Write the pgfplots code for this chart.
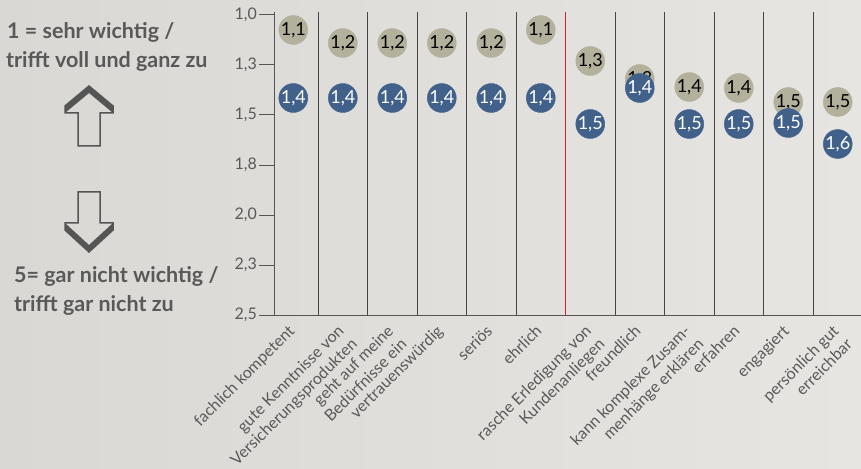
\documentclass[border=0pt]{standalone}
\usepackage{fontspec}
\setmainfont{Lato}
\usepackage{pgfplots}
\pgfplotsset{compat=1.18}
\usepackage{pgfplotstable}

\definecolor{bgL}{HTML}{D9D8D5}
\definecolor{bgR}{HTML}{E6E5E2}
\definecolor{gold}{HTML}{B3B19B}
\definecolor{blu}{HTML}{41618A}
\definecolor{txt}{HTML}{595959}
\definecolor{sep}{HTML}{454545}
\definecolor{redl}{HTML}{D0222A}
\definecolor{arr}{HTML}{555555}

\pgfplotstableread{
x gold glab blue blab
0 1.075 1,1 1.415 1,4
1 1.14 1,2 1.415 1,4
2 1.14 1,2 1.415 1,4
3 1.14 1,2 1.415 1,4
4 1.14 1,2 1.415 1,4
5 1.075 1,1 1.415 1,4
6 1.23 1,3 1.545 1,5
7 1.32 1,3 1.365 1,4
8 1.36 1,4 1.545 1,5
9 1.365 1,4 1.545 1,5
10 1.435 1,5 1.54 1,5
11 1.435 1,5 1.645 1,6
}\data

\begin{document}
\begin{tikzpicture}
\path[use as bounding box] (0,0) rectangle (861pt,468pt);
\clip (0,0) rectangle (861pt,468pt);
\shade[left color=bgL, right color=bgR] (0,0) rectangle (861pt,468pt);

% left explanatory text
\node[anchor=base west, inner sep=0pt, text=txt, font=\fontsize{21.5}{25}\selectfont\bfseries] at (7pt,429pt) {1 = sehr wichtig /};
\node[anchor=base west, inner sep=0pt, text=txt, font=\fontsize{21.5}{25}\selectfont\bfseries] at (6pt,400pt) {trifft voll und ganz zu};
\node[anchor=base west, inner sep=0pt, text=txt, font=\fontsize{21.5}{25}\selectfont\bfseries] at (14pt,185pt) {5= gar nicht wichtig /};
\node[anchor=base west, inner sep=0pt, text=txt, font=\fontsize{21.5}{25}\selectfont\bfseries] at (14pt,156pt) {trifft gar nicht zu};

% up arrow
\fill[arr] (65pt,355pt) -- (89pt,375pt) -- (113pt,355pt) -- (113pt,362pt) -- (89pt,382pt) -- (65pt,362pt) -- cycle;
\draw[arr, line width=1.5pt, line join=miter] (78pt,322pt) -- (100pt,322pt) -- (100pt,355pt) -- (113pt,355pt) -- (113pt,362pt) -- (89pt,382pt) -- (65pt,362pt) -- (65pt,355pt) -- (78pt,355pt) -- cycle;
% down arrow
\fill[arr] (65pt,245pt) -- (89pt,223pt) -- (113pt,245pt) -- (113pt,238pt) -- (89pt,216pt) -- (65pt,238pt) -- cycle;
\draw[arr, line width=1.5pt, line join=miter] (78pt,276pt) -- (100pt,276pt) -- (100pt,245pt) -- (113pt,245pt) -- (113pt,238pt) -- (89pt,216pt) -- (65pt,238pt) -- (65pt,245pt) -- (78pt,245pt) -- cycle;

\begin{axis}[
  at={(274pt,153pt)}, anchor=south west,
  scale only axis, width=587pt, height=303pt,
  xmin=-0.39, xmax=11.47, ymin=0.985, ymax=2.5, y dir=reverse,
  axis x line*=bottom, axis y line*=left,
  axis line style={draw=arr, line width=1pt},
  tick align=outside, major tick length=15pt,
  ytick={1,1.25,1.5,1.75,2,2.25,2.5},
  yticklabels={{1,0},{1,3},{1,5},{1,8},{2,0},{2,3},{2,5}},
  ytick style={draw=arr, line width=1pt},
  xtick={0,...,11},
  xtick style={draw=none},
  xticklabels={{fachlich kompetent},{gute Kenntnisse von\\Versicherungsprodukten},{geht auf meine\\Bedürfnisse ein},{vertrauenswürdig},{seriös},{ehrlich},{rasche Erledigung von\\Kundenanliegen},{freundlich},{kann komplexe Zusam-\\menhänge erklären},{erfahren},{engagiert},{persönlich gut\\erreichbar}},
  yticklabel style={font=\fontsize{16}{19}\selectfont, text=txt, inner sep=2pt},
  xticklabel style={font=\fontsize{16}{19}\selectfont, text=txt, rotate=45, anchor=north east, align=right, inner sep=0pt, yshift=9pt},
  clip=false,
]
\pgfplotsinvokeforeach{0.5,1.5,2.5,3.5,4.5,6.5,7.5,8.5,9.5,10.5}{
  \draw[sep, line width=1pt] (axis cs:#1,0.985) -- (axis cs:#1,2.5);
}
\draw[redl, line width=1.2pt] (axis cs:5.5,0.985) -- (axis cs:5.5,2.5);

\addplot[only marks, mark=*, mark size=14.5pt, draw=gold, fill=gold, mark options={draw=gold, fill=gold},
  nodes near coords, nodes near coords align={center}, point meta=explicit symbolic,
  every node near coord/.append style={anchor=center, font=\fontsize{18}{18}\selectfont, text=black}]
  table[x=x, y=gold, meta=glab] {\data};
\addplot[only marks, mark=*, mark size=14.5pt, draw=blu, fill=blu, mark options={draw=blu, fill=blu},
  nodes near coords, nodes near coords align={center}, point meta=explicit symbolic,
  every node near coord/.append style={anchor=center, font=\fontsize{18}{18}\selectfont, text=white}]
  table[x=x, y=blue, meta=blab] {\data};
\end{axis}
\end{tikzpicture}
\end{document}
